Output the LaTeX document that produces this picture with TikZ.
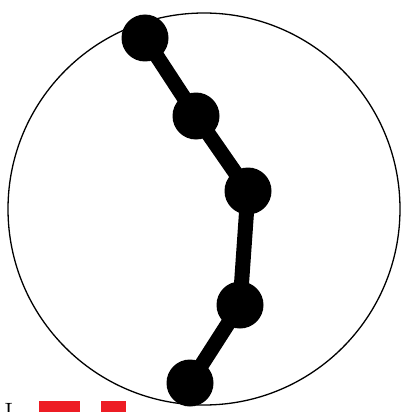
\documentclass[tikz,border=0pt]{standalone}
\usepackage{tikz}
\usetikzlibrary{positioning}
\definecolor{markred}{RGB}{237,28,36}
\tikzset{
    dot/.style={circle, fill=black, minimum size=47pt, inner sep=0pt},
    link/.style={line width=15pt, draw=black},
    redbar/.style={rectangle, fill=markred, inner sep=0pt, anchor=north west}
}
\begin{document}
\begin{tikzpicture}[x=1pt, y=-1pt]
        \useasboundingbox (0,0) rectangle (410,412);

        % Outer circle
        \draw[line width=1.3pt] (204,209) circle (196);

        % Chain of dots
        \node[dot] (d1) at (145,38) {};
        \node[dot] (d2) at (196,116) {};
        \node[dot] (d3) at (248,191) {};
        \node[dot] (d4) at (240,305) {};
        \node[dot] (d5) at (190,383) {};

        % Links
        \draw[link] (d1.center) -- (d2.center) -- (d3.center) -- (d4.center) -- (d5.center);

        % Clipped marks at the bottom
        \node[anchor=base west, font=\fontsize{28}{30}\selectfont, inner sep=0pt] (lab) at (4,422) {I};
        \node[redbar, minimum width=41pt, minimum height=20pt] (r1) at (39,401) {};
        \node[redbar, minimum width=25pt, minimum height=20pt] (r2) at (101,401) {};
\end{tikzpicture}
\end{document}
